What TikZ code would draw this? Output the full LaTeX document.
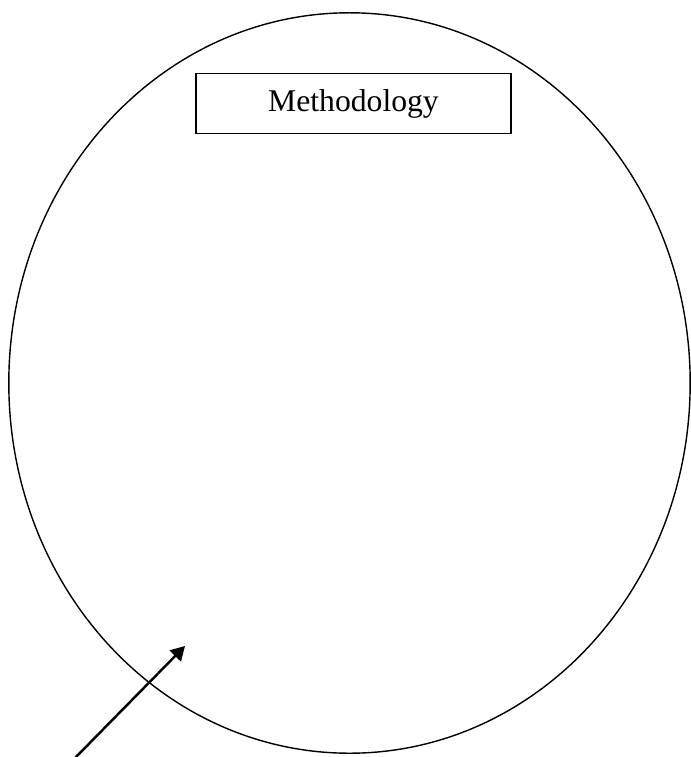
\documentclass[tikz,border=0pt]{standalone}
\usepackage{fontspec}
\setmainfont{Liberation Serif}
\usetikzlibrary{arrows.meta}
\usetikzlibrary{shapes.geometric}
\usetikzlibrary{positioning}

\begin{document}
\begin{tikzpicture}[x=0.01cm, y=-0.01cm,
	scope/.style={ellipse, draw=black, line width=0.4pt, inner sep=0pt, outer sep=0pt,
		minimum width=6.81cm, minimum height=7.40cm},
	title/.style={rectangle, draw=black, line width=0.5pt, inner sep=0pt, outer sep=0pt,
		minimum width=3.15cm, minimum height=0.60cm, font=\fontsize{9pt}{11pt}\selectfont},
	pointer/.style={-{Triangle[length=1.4mm,width=1.55mm]}, line width=0.7pt}]
	
	% page frame
	\useasboundingbox (0,0) rectangle (691,757);
	
	% ellipse and title box
	\node[scope] (M) at (349.5,383) {};
	\node[title] (T) at (353.5,103.5) {Methodology};
	
	% arrow into the ellipse
	\coordinate (A0) at (75,758);
	\coordinate (A1) at (185,646);
	\draw[pointer] (A0) -- (A1);
\end{tikzpicture}
\end{document}
